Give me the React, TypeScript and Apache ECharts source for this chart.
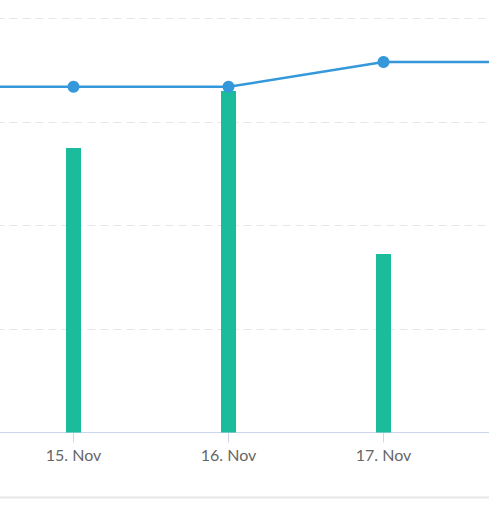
import React, { useEffect, useRef } from "react";
import * as echarts from "echarts";

const categories = ["14. Nov", "15. Nov", "16. Nov", "17. Nov", "18. Nov"];
const barValues: (number | null)[] = [null, 68.7, 82.5, 43.1, null];
const lineValues = [83.5, 83.5, 83.5, 89.5, 89.5];
const yTicks = { min: 0, max: 100, interval: 25 };

export default function App() {
  const ref = useRef<HTMLDivElement>(null);
  useEffect(() => {
    if (!ref.current) return;
    const chart = echarts.init(ref.current, null, { renderer: "svg" });
    const visible = (i: number) => i >= 1 && i <= 3;
    chart.setOption({
      animation: false,
      backgroundColor: "#ffffff",
      grid: {
        left: -81.5,
        right: -49.5,
        top: 18.5,
        bottom: 79.5,
        containLabel: false,
        outerBoundsMode: "none",
      },
      xAxis: {
        type: "category",
        data: categories,
        boundaryGap: false,
        axisLine: { lineStyle: { color: "#ccd6eb", width: 1 } },
        axisTick: { show: true, length: 10, interval: visible, lineStyle: { color: "#ccd6eb" } },
        axisLabel: {
          color: "#666666",
          fontFamily: "Lato",
          fontSize: 16,
          margin: 14,
          interval: visible,
        },
        splitLine: { show: false },
      },
      yAxis: {
        type: "value",
        min: yTicks.min,
        max: yTicks.max,
        interval: yTicks.interval,
        axisLine: { show: false },
        axisTick: { show: false },
        axisLabel: { show: false },
        splitLine: { show: true, lineStyle: { color: "#e6e6e6", type: [8, 5], width: 1 } },
      },
      graphic: [
        {
          type: "line",
          shape: { x1: 0, y1: 497.5, x2: 489, y2: 497.5 },
          style: { stroke: "#e8e8e8", lineWidth: 2 },
          silent: true,
        },
      ],
      series: [
        {
          type: "bar",
          data: barValues,
          barWidth: 15,
          itemStyle: { color: "#1abc9c" },
          z: 2,
        },
        {
          type: "line",
          data: lineValues,
          symbol: "circle",
          symbolSize: 12,
          lineStyle: { color: "#3498db", width: 2.5 },
          itemStyle: { color: "#3498db" },
          z: 3,
        },
      ],
    });
    return () => chart.dispose();
  }, []);
  return <div ref={ref} style={{ width: 489, height: 512, position: "absolute", left: 0, top: 0 }} />;
}
